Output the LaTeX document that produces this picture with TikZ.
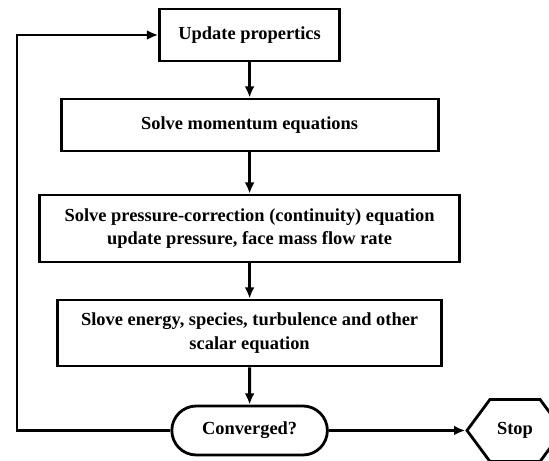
\documentclass[tikz,border=0pt]{standalone}
\usepackage{fontspec}
\setmainfont{Liberation Serif}
\usetikzlibrary{arrows.meta,shapes.misc,shapes.symbols}
\begin{document}
\begin{tikzpicture}[>={Latex[length=8pt,width=7pt]},line width=2pt,
    step node/.style={rectangle,draw,align=center,inner sep=2pt,font=\bfseries\fontsize{13.1}{17}\selectfont}]
            \useasboundingbox (0,0) rectangle (13.725,11.525);
            \node[step node,minimum width=4.5cm,minimum height=1.3cm] at (6.24, 10.65) (upd) {Update propertics};
            \node[step node,minimum width=9.425cm,minimum height=1.3cm] at (6.24, 8.4) (mom) {Solve momentum equations};
            \node[step node,minimum width=10.5cm,minimum height=1.675cm] at (6.24, 5.81) (pres) {Solve pressure-correction (continuity) equation\\update pressure, face mass flow rate};
            \node[step node,minimum width=9.6cm,minimum height=1.65cm] at (6.24, 3.2) (scal) {Slove energy, species, turbulence and other\\scalar equation};
            \node[step node,rounded rectangle,minimum width=4.03cm,minimum height=1.225cm] at (6.24, 0.7625) (conv) {Converged?};
            \node[step node,signal,signal to=east and west,signal pointer angle=107,minimum width=2.4cm,minimum height=1.55cm] at (12.875, 0.7625) (stop) {Stop};
            \coordinate (back) at (0.425, 0.7625);

            \path[->] (upd) edge (mom);
            \path[->] (mom) edge (pres);
            \path[->] (pres) edge (scal);
            \path[->] (scal) edge (conv);
            \path[->] (conv) edge (stop);
            \draw[->] (conv) -- (back) |- (upd);
        \end{tikzpicture}
\end{document}
